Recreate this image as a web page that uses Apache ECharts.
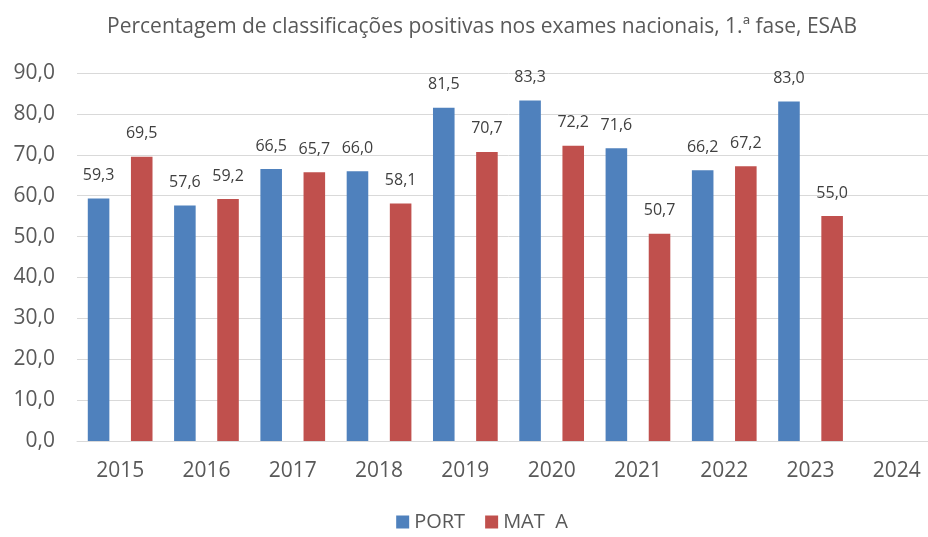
<!DOCTYPE html>
<html>
<head>
<meta charset="utf-8">
<script src="https://cdn.jsdelivr.net/npm/echarts@6/dist/echarts.min.js"></script>
<style>html,body{margin:0;padding:0;background:#fff;overflow:hidden;width:928px;height:537px}#c{width:964px;height:537px}</style>
</head>
<body>
<div id="c"></div>
<script>
var categories = ['2015','2016','2017','2018','2019','2020','2021','2022','2023','2024'];
var port = [59.3, 57.6, 66.5, 66.0, 81.5, 83.3, 71.6, 66.2, 83.0, null];
var matA = [69.5, 59.2, 65.7, 58.1, 70.7, 72.2, 50.7, 67.2, 55.0, null];
var seriesNames = ['PORT', 'MAT  A'];

var font = 'Open Sans';
var chart = echarts.init(document.getElementById('c'));
function fmt(v){ return v.toFixed(1).replace('.', ','); }
var labelCfg = {
  show: true, position: 'top', distance: 15,
  color: '#404040', fontSize: 16, fontFamily: font,
  formatter: function(p){ return p.value == null ? '' : fmt(p.value); }
};
chart.setOption({
  animation: false,
  title: {
    text: 'Percentagem de classificações positivas nos exames nacionais, 1.ª fase, ESAB',
    left: 'center', top: 12,
    textStyle: { color: '#595959', fontSize: 21, fontWeight: 'normal', fontFamily: font }
  },
  legend: {
    bottom: 0, left: 'center', itemWidth: 13, itemHeight: 13, itemGap: 20,
    icon: 'rect',
    textStyle: { color: '#595959', fontSize: 20, fontFamily: font },
    data: seriesNames
  },
  grid: { left: 77, right: 24, top: 73, bottom: 96 },
  xAxis: {
    type: 'category', data: categories,
    axisLine: { lineStyle: { color: '#D9D9D9' } },
    axisTick: { show: false },
    axisLabel: { color: '#595959', fontSize: 21, fontFamily: font, margin: 20 }
  },
  yAxis: {
    type: 'value', min: 0, max: 90, interval: 10,
    axisLine: { show: false }, axisTick: { show: false },
    splitLine: { lineStyle: { color: '#D9D9D9' } },
    axisLabel: { color: '#595959', fontSize: 21, fontFamily: font, margin: 22, formatter: function(v){ return fmt(v); } }
  },
  series: [
    { name: seriesNames[0], type: 'bar', data: port, itemStyle: { color: '#4F81BD' }, barGap: '100%', barCategoryGap: '25%', label: labelCfg },
    { name: seriesNames[1], type: 'bar', data: matA, itemStyle: { color: '#C0504D' }, label: labelCfg }
  ]
});
</script>
</body>
</html>
